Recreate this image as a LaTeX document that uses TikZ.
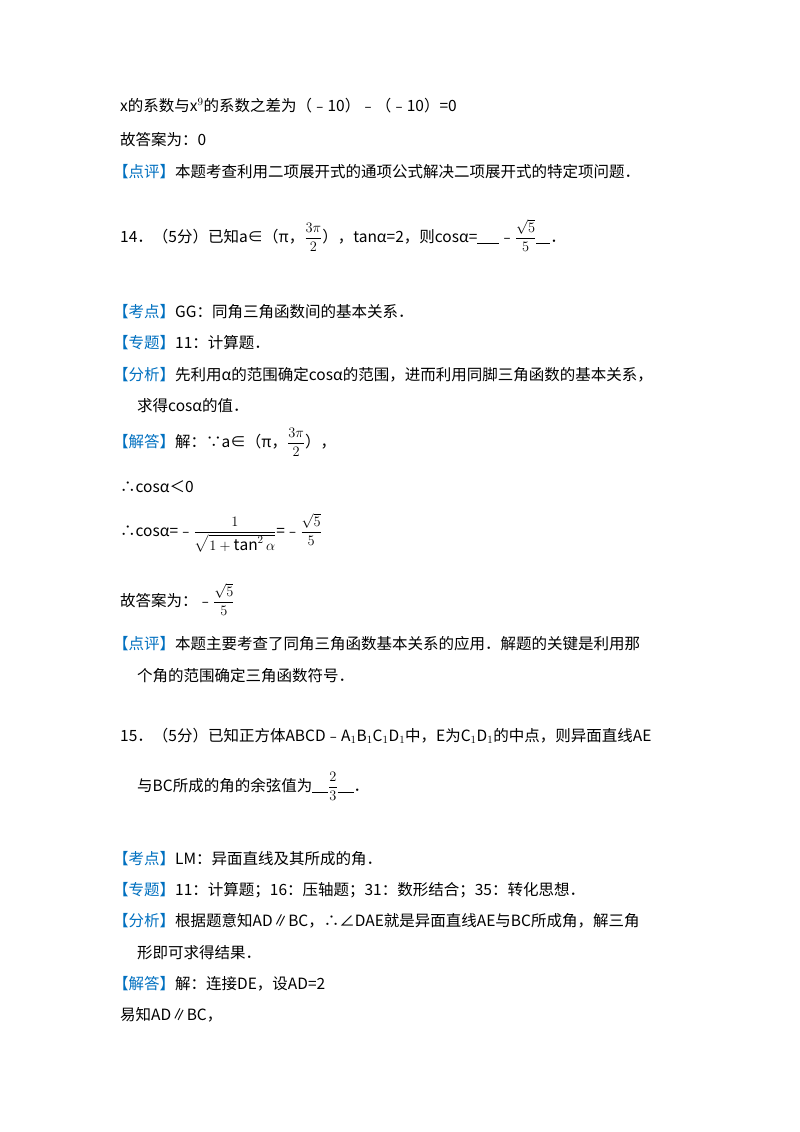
\documentclass[tikz,border=0pt]{standalone}
\usepackage{fontspec}
\usepackage{amsmath}
\setmainfont{Noto Sans CJK SC}
\definecolor{kblue}{RGB}{0,112,192}
\newcommand{\bk}[1]{\textcolor{kblue}{【#1】}}
\newcommand{\blank}[1]{\rule[-2pt]{#1}{0.6pt}}
\begin{document}
\begin{tikzpicture}[x=1pt,y=-1pt,
  t/.style={anchor=base west,inner sep=0pt,font=\fontsize{15.5}{18}\selectfont}]
\useasboundingbox[fill=white] (0,0) rectangle (800,1132);
\node[t] (l1) at (120,111) {x的系数与x$^9$的系数之差为（﹣10）﹣（﹣10）=0};
\node[t] (l2) at (120,145) {故答案为：0};
\node[t] (l3) at (113,177) {\bk{点评}本题考查利用二项展开式的通项公式解决二项展开式的特定项问题．};
\node[t] (l4) at (120,242) {14．（5分）已知a∈（π，$\dfrac{3\pi}{2}$），tanα=2，则cosα=\blank{22pt}﹣$\dfrac{\sqrt5}{5}$\blank{14pt}．};
\node[t] (l5) at (113,317) {\bk{考点}GG：同角三角函数间的基本关系．};
\node[t] (l6) at (113,348) {\bk{专题}11：计算题．};
\node[t] (l7) at (113,380) {\bk{分析}先利用α的范围确定cosα的范围，进而利用同脚三角函数的基本关系，};
\node[t] (l8) at (137,411) {求得cosα的值．};
\node[t] (l9) at (113,447) {\bk{解答}解：∵a∈（π，$\dfrac{3\pi}{2}$），};
\node[t] (l10) at (120,492) {∴cosα＜0};
\node[t] (l11) at (120,536) {∴cosα=﹣$\dfrac{1}{\sqrt{1+\tan^2\alpha}}$=﹣$\dfrac{\sqrt5}{5}$};
\node[t] (l12) at (120,606) {故答案为：﹣$\dfrac{\sqrt5}{5}$};
\node[t] (l13) at (113,649) {\bk{点评}本题主要考查了同角三角函数基本关系的应用．解题的关键是利用那};
\node[t] (l14) at (137,681) {个角的范围确定三角函数符号．};
\node[t] (l15) at (120,741) {15．（5分）已知正方体ABCD﹣A$_1$B$_1$C$_1$D$_1$中，E为C$_1$D$_1$的中点，则异面直线AE};
\node[t] (l16) at (137,791) {与BC所成的角的余弦值为\blank{16pt}$\dfrac{2}{3}$\blank{16pt}．};
\node[t] (l17) at (113,864) {\bk{考点}LM：异面直线及其所成的角．};
\node[t] (l18) at (113,895) {\bk{专题}11：计算题；16：压轴题；31：数形结合；35：转化思想．};
\node[t] (l19) at (113,926) {\bk{分析}根据题意知AD∥BC，∴∠DAE就是异面直线AE与BC所成角，解三角};
\node[t] (l20) at (137,958) {形即可求得结果．};
\node[t] (l21) at (113,989) {\bk{解答}解：连接DE，设AD=2};
\node[t] (l22) at (120,1020) {易知AD∥BC，};
\end{tikzpicture}
\end{document}
